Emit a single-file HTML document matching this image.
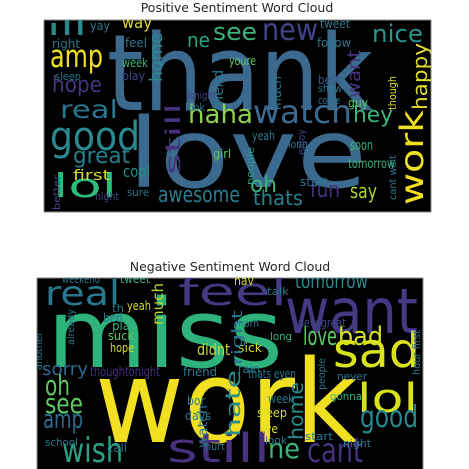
<!DOCTYPE html>
<html><head><meta charset="utf-8"><style>
html,body{margin:0;padding:0;background:#fff;width:469px;height:469px;overflow:hidden}
svg{display:block}
text{font-family:"DejaVu Sans","Liberation Sans",sans-serif}
</style></head><body>
<svg id="chart" width="469" height="469" viewBox="0 0 469 469">
<defs>
<clipPath id="cp1"><rect x="44" y="20" width="387" height="192"/></clipPath>
<clipPath id="cp2"><rect x="37" y="278" width="386" height="195"/></clipPath>
</defs>
<text x="237" y="12" text-anchor="middle" font-size="12.5" fill="#262626">Positive Sentiment Word Cloud</text>
<rect x="44" y="20" width="387" height="192" fill="#000" stroke="#888" stroke-width="1"/>
<g id="pos" clip-path="url(#cp1)"></g>
<text x="230" y="271" text-anchor="middle" font-size="12.5" fill="#262626">Negative Sentiment Word Cloud</text>
<rect x="37" y="278" width="386" height="195" fill="#000" stroke="#888" stroke-width="1"/>
<g id="neg" clip-path="url(#cp2)"></g>
</svg>
<script>
// word, x, baseline, font size, width, color, vertical
const posWords=[
["thank",107,110,106,266,"#3b6a8e",0],["love",128,187,96,239,"#3b6a8e",0],
["good",50,150,40,90,"#2a8a91",0],["lol",53,197,33,64,"#2dbb7d",0],["great",73,163,22,57,"#27808e",0],
["amp",50,67,31,53,"#f0e020",0],["hope",52,92,22,50,"#463480",0],["real",60,118,25,58,"#2a768e",0],
["ill",47,35,22,40,"#2a8a8c",0],["way",122,28,16,30,"#e0dc30",0],["see",213,40,24,44,"#3bb37a",0],
["new",262,40,30,56,"#414487",0],["nice",372,42,24,51,"#27958b",0],["ne",187,47,20,23,"#2aa285",0],
["haha",188,123,26,65,"#8cd150",0],["watch",253,123,32,99,"#3b6a8e",0],["hey",353,122,22,40,"#3bb37a",0],
["awesome",158,202,22,82,"#2b7d8e",0],["thats",253,205,20,50,"#26838e",0],["oh",250,192,22,27,"#3bb37a",0],
["fun",310,197,22,30,"#46327e",0],["say",350,198,20,27,"#a8d830",0],["cool",123,177,16,27,"#26908c",0],
["first",73,180,14,37,"#d9dc30",0],["tomorrow",348,168,13,47,"#3bb37a",0],["soon",350,150,14,23,"#3bb37a",0],
["yay",90,30,12,20,"#2a788e",0],["right",52,48,12,28,"#2a788e",0],["feel",125,47,12,22,"#2a788e",0],
["week",122,67,12,26,"#3bb37a",0],["youre",229,65,12,27,"#5ec962",0],["play",122,80,12,23,"#414487",0],
["sleep",55,80,11,26,"#2a788e",0],["best",318,84,12,22,"#3b528b",0],["show",318,92,11,24,"#2a788e",0],
["tonight",186,99,11,30,"#414487",0],["look",185,111,11,20,"#2a788e",0],["guy",348,107,12,20,"#5ec962",0],
["girl",213,158,12,18,"#5ec962",0],["yeah",252,140,12,23,"#2a788e",0],["sure",127,196,11,22,"#2a788e",0],
["night",95,200,11,24,"#414487",0],["start",300,186,12,28,"#2a788e",0],["tweet",320,28,12,30,"#2a788e",0],
["follow",317,47,12,34,"#2a788e",0],["come",318,104,11,22,"#2a788e",0],["long",288,148,11,20,"#2a788e",0],
["home",162,82,18,49,"#2a8a8c",1],["happy",427,110,20,67,"#e0dc30",1],["want",360,98,18,48,"#463480",1],
["work",423,205,32,95,"#f0e020",1],["still",180,175,20,72,"#46327e",1],["friend",223,110,14,40,"#2a788e",1],
["much",281,110,13,34,"#2a788e",1],["people",254,185,11,38,"#2a9a89",1],["enjoy",305,155,11,26,"#414487",1],
["though",396,110,11,34,"#d9dc30",1],["cant wait",396,200,10,45,"#2a788e",1],["better",60,210,10,35,"#414487",1]
];
const negWords=[
["miss",47,367,95,236,"#2db37b",0],["work",95,442,115,263,"#f0e020",0],["want",285,333,62,133,"#443983",0],
["feel",178,305,38,109,"#443983",0],["real",45,305,34,75,"#2a788e",0],["sad",333,367,48,87,"#d8e21e",0],
["lol",357,412,40,61,"#d8e21e",0],["love",303,345,26,34,"#5ec962",0],["bad",338,345,26,45,"#d8e21e",0],
["good",360,427,30,58,"#26888e",0],["cant",307,462,34,56,"#46327e",0],["still",167,462,40,103,"#46327e",0],
["wish",62,462,34,61,"#2aa285",0],["ne",268,458,28,32,"#3bb37a",0],["oh",45,395,28,25,"#5ec962",0],
["see",45,413,28,38,"#5ec962",0],["amp",43,428,26,40,"#2f6b8e",0],["sorry",42,375,18,46,"#2f6b8e",0],
["tomorrow",295,288,20,73,"#2a8a8c",0],["didnt",197,355,16,33,"#c8d830",0],["weekend",62,283,12,38,"#2a788e",0],
["tweet",120,283,13,30,"#3bb37a",0],["th",112,312,11,12,"#2a788e",0],["yeah",127,310,12,24,"#d9dc30",0],
["bed",103,322,12,20,"#2a788e",0],["play",112,330,12,25,"#3bb37a",0],["suck",108,340,12,26,"#5ec962",0],
["hope",110,352,12,24,"#d9dc30",0],["thoughtonight",90,376,13,70,"#46327e",0],["friend",183,376,12,34,"#2a788e",0],
["rain",238,373,12,22,"#2a788e",0],["thats eyen",248,378,12,48,"#2a788e",0],["sick",238,352,12,24,"#d9dc30",0],
["morn",235,327,11,24,"#2a788e",0],["new great",298,327,12,48,"#414487",0],["long",270,340,11,22,"#3bb37a",0],
["week",268,403,12,26,"#2a788e",0],["sleep",257,417,12,30,"#d9dc30",0],["ive",262,433,12,16,"#d9dc30",0],
["look",265,444,11,22,"#2a788e",0],["days",185,420,12,26,"#2a788e",0],["bor",187,405,12,18,"#2a788e",0],
["hurt",205,450,11,20,"#2a788e",0],["call",107,452,12,20,"#2a788e",0],["school",45,446,11,33,"#2a788e",0],
["gonna",330,400,11,32,"#3bb37a",0],["never",337,380,11,30,"#2a788e",0],["night",343,447,11,28,"#2a788e",0],
["start",305,440,11,28,"#2a788e",0],["talk",267,295,11,22,"#2a788e",0],["hav",234,285,12,20,"#d9dc30",0],
["much",163,325,15,42,"#b8d830",1],["right",242,365,14,55,"#2a788e",1],["hate",240,437,20,67,"#2a8a8c",1],
["home",303,440,20,58,"#2a8a8c",1],["watch",207,448,13,43,"#2a788e",1],["another",42,370,10,38,"#2a788e",1],
["already",74,345,10,36,"#2a788e",1],["hour first",420,375,11,45,"#2a788e",1],["people",325,390,10,32,"#2a788e",1]
];
function draw(gid,list){
  const g=document.getElementById(gid);
  list.forEach(w=>{
    const t=document.createElementNS("http://www.w3.org/2000/svg","text");
    
    
    t.textContent=w[0];
    t.setAttribute("font-size",w[3]);
    t.setAttribute("fill",w[5]);
    t.setAttribute("textLength",w[4]);
    t.setAttribute("lengthAdjust","spacingAndGlyphs");
    if(w[6]){
      t.setAttribute("x",0);t.setAttribute("y",0);
      t.setAttribute("transform","translate("+w[1]+","+w[2]+") rotate(-90)");
    } else {t.setAttribute("x",w[1]);t.setAttribute("y",w[2]);}
    g.appendChild(t);
  });
}
draw("pos",posWords);draw("neg",negWords);
</script>
</body></html>
